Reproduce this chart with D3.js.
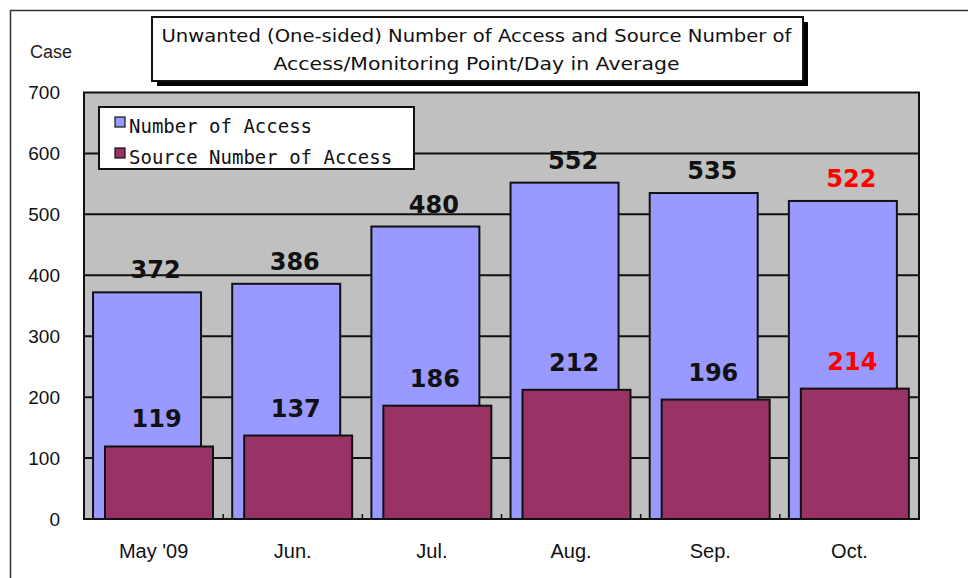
<!DOCTYPE html>
<html>
<head>
<meta charset="utf-8">
<script src="https://cdn.jsdelivr.net/npm/d3@7"></script>
<style>
  body { margin: 0; background: #fff; }
  svg { display: block; }
</style>
</head>
<body>
<div id="chart"></div>
<script>
// data
const months = ["May '09", "Jun.", "Jul.", "Aug.", "Sep.", "Oct."];
const accessCounts = [372, 386, 480, 552, 535, 522];
const sourceCounts = [119, 137, 186, 212, 196, 214];
const yTicks = [0, 100, 200, 300, 400, 500, 600, 700];
const seriesNames = ["Number of Access", "Source Number of Access"];
const titleLines = [
    "Unwanted (One-sided) Number of Access and Source Number of",
    "Access/Monitoring Point/Day in Average"
];

const width = 968;
const height = 578;
const plotBox = { left: 84, right: 919, top: 92.5, bottom: 519 };
const blueFill = "#9999ff";
const maroonFill = "#993366";

const svg = d3.select('#chart')
    .append('svg')
    .attr('width', width)
    .attr('height', height);

// outer frame (cut off at right and bottom)
svg.append('path')
    .attr('d', `M10.5,${height} L10.5,10.5 L${width},10.5`)
    .attr('fill', 'none')
    .attr('stroke', '#333')
    .attr('stroke-width', 1.5);

const x = d3.scaleBand()
    .domain(months)
    .range([plotBox.left, plotBox.right]);
const y = d3.scaleLinear()
    .domain([0, 700])
    .range([plotBox.bottom, plotBox.top]);
const bw = x.bandwidth();

// plot background
svg.append('rect')
    .attr('x', plotBox.left)
    .attr('y', plotBox.top)
    .attr('width', plotBox.right - plotBox.left)
    .attr('height', plotBox.bottom - plotBox.top)
    .attr('fill', '#c0c0c0');

// gridlines
svg.append('g')
    .selectAll('line')
    .data(yTicks.slice(1, -1))
    .enter()
    .append('line')
    .attr('x1', plotBox.left)
    .attr('x2', plotBox.right)
    .attr('y1', d => y(d))
    .attr('y2', d => y(d))
    .attr('stroke', '#111')
    .attr('stroke-width', 2);

// bars
svg.selectAll('.bar-access')
    .data(accessCounts)
    .enter()
    .append('rect')
    .classed('bar-access', true)
    .attr('x', (d, i) => x(months[i]) + bw * 0.065)
    .attr('y', d => y(d))
    .attr('width', bw * 0.776)
    .attr('height', d => y(0) - y(d))
    .attr('fill', blueFill)
    .attr('stroke', '#111')
    .attr('stroke-width', 2);

svg.selectAll('.bar-source')
    .data(sourceCounts)
    .enter()
    .append('rect')
    .classed('bar-source', true)
    .attr('x', (d, i) => x(months[i]) + bw * 0.151)
    .attr('y', d => y(d))
    .attr('width', bw * 0.776)
    .attr('height', d => y(0) - y(d))
    .attr('fill', maroonFill)
    .attr('stroke', '#111')
    .attr('stroke-width', 2);

// value labels
const labelColor = i => (i === months.length - 1 ? '#ff0000' : '#111');

svg.selectAll('.label-access')
    .data(accessCounts)
    .enter()
    .append('text')
    .classed('label-access', true)
    .attr('x', (d, i) => x(months[i]) + bw / 2 + 2)
    .attr('y', d => y(d) - 14)
    .attr('text-anchor', 'middle')
    .style('font-family', 'DejaVu Sans')
    .style('font-weight', 'bold')
    .style('font-size', '24px')
    .attr('fill', (d, i) => labelColor(i))
    .text(d => d);

svg.selectAll('.label-source')
    .data(sourceCounts)
    .enter()
    .append('text')
    .classed('label-source', true)
    .attr('x', (d, i) => x(months[i]) + bw / 2 + 3)
    .attr('y', d => y(d) - 19)
    .attr('text-anchor', 'middle')
    .style('font-family', 'DejaVu Sans')
    .style('font-weight', 'bold')
    .style('font-size', '24px')
    .attr('fill', (d, i) => labelColor(i))
    .text(d => d);

// plot border
svg.append('rect')
    .attr('x', plotBox.left)
    .attr('y', plotBox.top)
    .attr('width', plotBox.right - plotBox.left)
    .attr('height', plotBox.bottom - plotBox.top)
    .attr('fill', 'none')
    .attr('stroke', '#111')
    .attr('stroke-width', 2);

// small inside ticks between categories
svg.append('g')
    .selectAll('line')
    .data(months.slice(1))
    .enter()
    .append('line')
    .attr('x1', d => x(d))
    .attr('x2', d => x(d))
    .attr('y1', plotBox.bottom)
    .attr('y2', plotBox.bottom - 5)
    .attr('stroke', '#111')
    .attr('stroke-width', 1.5);

// axes
const yAxis = d3.axisLeft(y)
    .tickValues(yTicks)
    .tickSize(0)
    .tickPadding(24);
const yG = svg.append('g')
    .attr('transform', `translate(${plotBox.left},0)`)
    .call(yAxis);
yG.select('.domain').remove();
yG.selectAll('text')
    .style('font-family', 'Liberation Sans')
    .style('font-size', '19px')
    .attr('fill', '#111');

const xAxis = d3.axisBottom(x)
    .tickSize(0)
    .tickPadding(25);
const xG = svg.append('g')
    .attr('transform', `translate(0,${plotBox.bottom})`)
    .call(xAxis);
xG.select('.domain').remove();
xG.selectAll('text')
    .style('font-family', 'Liberation Sans')
    .style('font-size', '20px')
    .attr('fill', '#111');

svg.append('text')
    .attr('x', 30)
    .attr('y', 58)
    .style('font-family', 'Liberation Sans')
    .style('font-size', '18px')
    .attr('fill', '#222')
    .text('Case');

// title box with shadow
svg.append('rect')
    .attr('x', 157)
    .attr('y', 22)
    .attr('width', 651)
    .attr('height', 64)
    .attr('fill', '#000');
svg.append('rect')
    .attr('x', 152)
    .attr('y', 17)
    .attr('width', 651)
    .attr('height', 64)
    .attr('fill', '#fff')
    .attr('stroke', '#111')
    .attr('stroke-width', 2);
svg.selectAll('.title')
    .data(titleLines)
    .enter()
    .append('text')
    .classed('title', true)
    .attr('x', 476.5)
    .attr('y', (d, i) => 42 + i * 28)
    .attr('text-anchor', 'middle')
    .attr('textLength', (d, i) => (i === 0 ? 630 : 406))
    .attr('lengthAdjust', 'spacingAndGlyphs')
    .style('font-family', 'DejaVu Sans')
    .style('font-size', '18px')
    .attr('fill', '#111')
    .text(d => d);

// legend
const legend = svg.append('g');
legend.append('rect')
    .attr('x', 99)
    .attr('y', 107)
    .attr('width', 315)
    .attr('height', 62)
    .attr('fill', '#fff')
    .attr('stroke', '#111')
    .attr('stroke-width', 2);
const legendItems = legend.selectAll('.legend-item')
    .data(seriesNames)
    .enter()
    .append('g')
    .classed('legend-item', true)
    .attr('transform', (d, i) => `translate(0,${i * 31})`);
legendItems.append('rect')
    .attr('x', 115)
    .attr('y', 117)
    .attr('width', 10)
    .attr('height', 10)
    .attr('fill', (d, i) => (i === 0 ? blueFill : maroonFill))
    .attr('stroke', '#111')
    .attr('stroke-width', 1.2);
legendItems.append('text')
    .attr('x', 129)
    .attr('y', 133)
    .style('font-family', 'DejaVu Sans Mono')
    .style('font-size', '19px')
    .attr('fill', '#111')
    .text(d => d);
</script>
</body>
</html>
